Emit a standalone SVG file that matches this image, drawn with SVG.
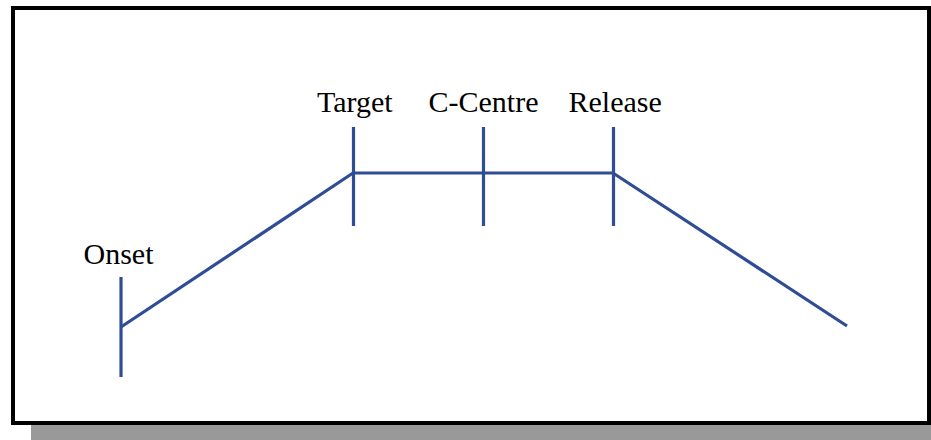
<svg xmlns="http://www.w3.org/2000/svg" width="931" height="440" viewBox="0 0 931 440">
<style>
.lbl{font-family:'Liberation Serif',serif;font-size:30px;fill:#000}
.ln{stroke:#2E4D94;stroke-width:3.2;fill:none;stroke-linejoin:miter}
</style>
<rect width="931" height="440" fill="#fff"/>
<rect x="31" y="425" width="900" height="15" fill="#999"/>
<rect x="13" y="8" width="916" height="415" fill="#fff" stroke="#000" stroke-width="4"/>
<g id="connectors">
<polyline class="ln" points="121,327 353,173 613,173 847,326"/>
</g>
<g id="onset"><line class="ln" x1="121" y1="277" x2="121" y2="377"/><text class="lbl" x="83.5" y="263.5">Onset</text></g>
<g id="target"><line class="ln" x1="353.5" y1="127" x2="353.5" y2="226"/><text class="lbl" x="317" y="112">Target</text></g>
<g id="ccentre"><line class="ln" x1="483.5" y1="127" x2="483.5" y2="226"/><text class="lbl" x="428.5" y="112">C-Centre</text></g>
<g id="release"><line class="ln" x1="613.5" y1="127" x2="613.5" y2="226"/><text class="lbl" x="568.5" y="112">Release</text></g>
</svg>
